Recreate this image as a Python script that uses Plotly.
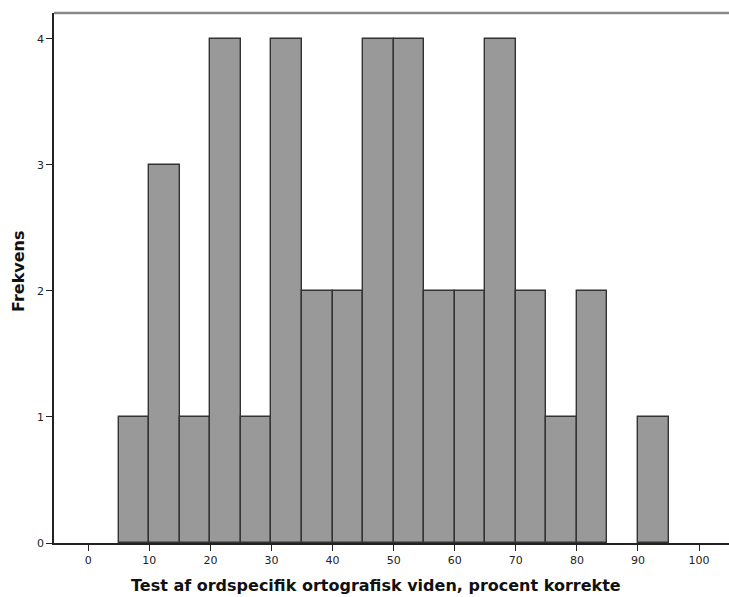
import plotly.graph_objects as go

# Histogram of test scores (percent correct), bins of width 5
bin_starts = [5, 10, 15, 20, 25, 30, 35, 40, 45, 50, 55, 60, 65, 70, 75, 80, 85, 90]
counts = [1, 3, 1, 4, 1, 4, 2, 2, 4, 4, 2, 2, 4, 2, 1, 2, 0, 1]
bin_width = 5

x_ticks = [0, 10, 20, 30, 40, 50, 60, 70, 80, 90, 100]
y_ticks = [0, 1, 2, 3, 4]

x_title = "Test af ordspecifik ortografisk viden, procent korrekte"
y_title = "Frekvens"

centers = [b + bin_width / 2 for b in bin_starts]
# empty bins get no outline so nothing is drawn for them
edge_widths = [1.4 if c > 0 else 0 for c in counts]

fig = go.Figure(
    go.Bar(
        x=centers,
        y=counts,
        width=[bin_width] * len(centers),
        marker=dict(color="#999999", line=dict(color="#333333", width=edge_widths)),
        hoverinfo="skip",
    )
)

tick_font = dict(family="DejaVu Sans", size=11, color="#222222")

fig.update_layout(
    width=729,
    height=597,
    margin=dict(l=54, r=0, t=13, b=54),
    paper_bgcolor="white",
    plot_bgcolor="white",
    showlegend=False,
    bargap=0,
    xaxis=dict(
        range=[-5.6, 104.9],
        tickvals=x_ticks,
        ticktext=[str(v) for v in x_ticks],
        ticks="outside",
        ticklen=6,
        tickwidth=1.3,
        tickcolor="#222222",
        showgrid=False,
        zeroline=False,
        showline=True,
        linecolor="#222222",
        linewidth=1.5,
        tickfont=tick_font,
    ),
    yaxis=dict(
        range=[0, 4.206],
        tickvals=y_ticks,
        ticktext=[str(v) for v in y_ticks],
        ticks="outside",
        ticklen=6,
        tickwidth=1.3,
        tickcolor="#222222",
        showgrid=False,
        zeroline=False,
        showline=True,
        linecolor="#222222",
        linewidth=1.5,
        tickfont=tick_font,
    ),
    shapes=[
        dict(type="line", xref="paper", yref="paper", x0=0, x1=1, y0=1, y1=1,
             line=dict(color="#888888", width=2.5)),
    ],
    annotations=[
        dict(text=x_title, xref="paper", yref="paper", x=(376 - 54) / 675, y=-0.058,
             xanchor="center", yanchor="top", showarrow=False,
             font=dict(family="DejaVu Sans", size=16, color="#111111", weight="bold")),
        dict(text=y_title, xref="paper", yref="paper", x=(18.5 - 54) / 675,
             y=(543 - 271.5) / 530,
             xanchor="center", yanchor="middle", textangle=-90, showarrow=False,
             font=dict(family="DejaVu Sans", size=16, color="#111111", weight="bold")),
    ],
)

fig.write_html("out.html")
